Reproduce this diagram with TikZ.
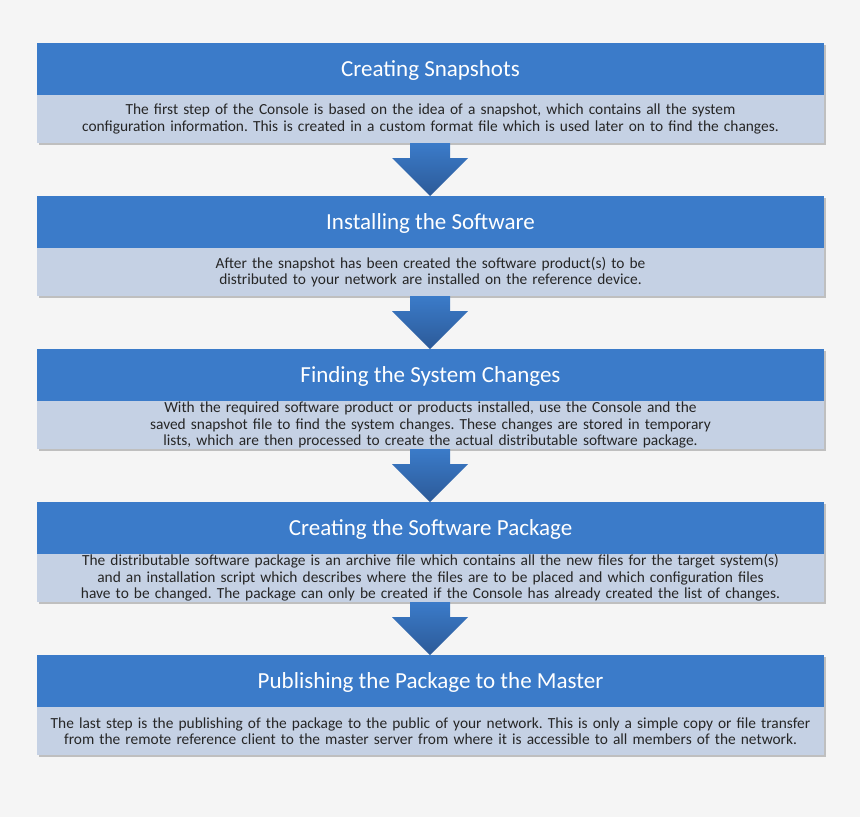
\documentclass[tikz,border=0pt]{standalone}
\usepackage{fontspec}
\setmainfont{Carlito}
\begin{document}
\hyphenpenalty=10000 \exhyphenpenalty=10000 \frenchspacing
\begin{tikzpicture}[x=1pt,y=-1pt,
  hdr/.style={fill=hblue,draw=none,text=white,font=\fontsize{23}{26}\selectfont,inner sep=0pt},
  bdy/.style={fill=bblue,draw=none,text=black!85,font=\fontsize{15.4}{16.5}\selectfont,align=center,text width=785pt,inner sep=0pt},
  arr/.style={top color=hblue,bottom color=ablue,draw=none}]
\definecolor{hblue}{HTML}{3B7BC9}
\definecolor{bblue}{HTML}{C5D1E4}
\definecolor{ablue}{HTML}{2C5A98}
\useasboundingbox (0,0) rectangle (860,817);
\fill[gray!8] (0,0) rectangle (860,817);
\foreach \y/\n/\t/\b in {
 43/a/{Creating Snapshots}/{The first step of the Console is based on the idea of a snapshot, which contains all the system configuration information. This is created in a custom format file which is used later on to find the changes.},
 196/b/{Installing the Software}/{After the snapshot has been created the software product(s) to be distributed to your network are installed on the reference device.},
 349/c/{Finding the System Changes}/{With the required software product or products installed, use the Console and the saved snapshot file to find the system changes. These changes are stored in temporary lists, which are then processed to create the actual distributable software package.},
 502/d/{Creating the Software Package}/{The distributable software package is an archive file which contains all the new files for the target system(s) and an installation script which describes where the files are to be placed and which configuration files have to be changed. The package can only be created if the Console has already created the list of changes.},
 655/e/{Publishing the Package to the Master}/{The last step is the publishing of the package to the public of your network. This is only a simple copy or file transfer from the remote reference client to the master server from where it is accessible to all members of the network.}}{
  \fill[black!25] (39,\y+2) rectangle (826,\y+102);
  \fill[bblue] (37,\y+52) rectangle (824,\y+100);
  \fill[hblue] (37,\y) rectangle (824,\y+52);
  \node[hdr] (h\n) at (430.5,\y+27) {\t};
  \node[bdy] (t\n) at (430.5,\y+76) {\b};
}
\foreach \y in {143,296,449,602}{
  \path[arr] (410,\y) -- (450,\y) -- (450,\y+15) -- (468,\y+15) -- (430,\y+53) -- (392,\y+15) -- (410,\y+15) -- cycle;
}
\end{tikzpicture}
\end{document}
